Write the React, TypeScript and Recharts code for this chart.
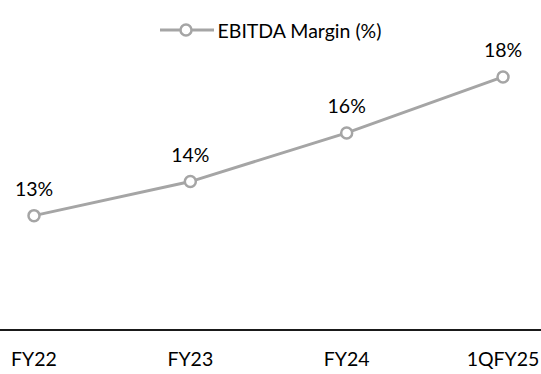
import { LineChart, Line, XAxis, YAxis, LabelList } from "recharts";

const periods = ["FY22", "FY23", "FY24", "1QFY25"];
const ebitdaMargin = [12.7, 14.1, 16.1, 18.4];
const marginLabels = ["13%", "14%", "16%", "18%"];

const GRIS = "#a5a5a5";
const FONTE = "Lato, 'Open Sans', sans-serif";

const dados = periods.map((p, i) => ({ periodo: p, margem: ebitdaMargin[i], rotulo: marginLabels[i] }));

function LegendaTopo() {
  return (
    <div
      style={{
        position: "absolute", top: 18, left: 0, width: 541, height: 24,
        display: "flex", justifyContent: "center", alignItems: "center",
        fontFamily: FONTE, fontSize: 19.5, color: "#000",
      }}
    >
      <svg width={54} height={14} style={{ marginRight: 4 }}>
        <line x1={0} y1={7} x2={54} y2={7} stroke={GRIS} strokeWidth={3} />
        <circle cx={26} cy={7} r={5.5} fill="#fff" stroke={GRIS} strokeWidth={2.5} />
      </svg>
      <span>EBITDA Margin (%)</span>
    </div>
  );
}

export default function App() {
  return (
    <div style={{ position: "absolute", left: 0, top: 0, width: 541, height: 374, background: "#fff" }}>
      <LineChart width={541} height={374} data={dados} margin={{ top: 38, right: 0, bottom: 14, left: 0 }}>
        <XAxis
          dataKey="periodo"
          height={30}
          padding={{ left: 34, right: 38 }}
          axisLine={{ stroke: "#1a1a1a", strokeWidth: 2 }}
          tickLine={false}
          tick={{ fontSize: 19.5, fill: "#000", fontFamily: FONTE }}
          tickMargin={16}
        />
        <YAxis hide domain={[8, 20]} />
        <Line
          dataKey="margem"
          stroke={GRIS}
          strokeWidth={3}
          dot={{ r: 5.5, fill: "#fff", stroke: GRIS, strokeWidth: 2.5 }}
          isAnimationActive={false}
        >
          <LabelList dataKey="rotulo" position="top" offset={20} style={{ fontSize: 19.5, fill: "#000", fontFamily: FONTE }} />
        </Line>
      </LineChart>
      <LegendaTopo />
    </div>
  );
}
